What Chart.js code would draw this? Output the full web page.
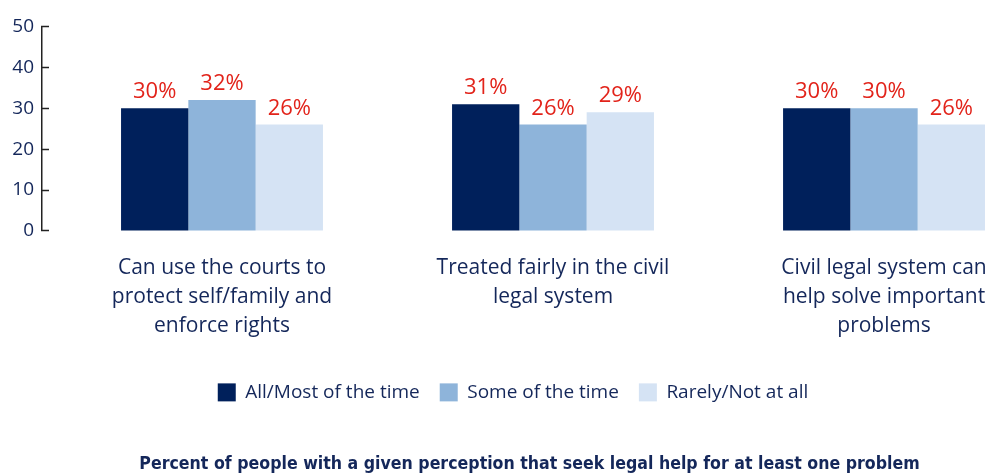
<!DOCTYPE html>
<html>
<head>
<meta charset="utf-8">
<script src="https://cdn.jsdelivr.net/npm/chart.js@4.4.1/dist/chart.umd.min.js"></script>
<style>
  html, body { margin: 0; padding: 0; background: #fff; overflow: hidden; }
  #wrap { width: 991px; height: 475px; position: relative; }
</style>
</head>
<body>
<div id="wrap"><canvas id="chart"></canvas></div>
<script>
const categories = [
  ["Can use the courts to", "protect self/family and", "enforce rights"],
  ["Treated fairly in the civil", "legal system"],
  ["Civil legal system can", "help solve important", "problems"]
];
const seriesNames = ["All/Most of the time", "Some of the time", "Rarely/Not at all"];
const allMost = [30, 31, 30];
const someTime = [32, 26, 30];
const rarely = [26, 29, 26];
const yTicks = [0, 10, 20, 30, 40, 50];
const footTitle = "Percent of people with a given perception that seek legal help for at least one problem";

(() => {
  const navy = "#14275a";
  const colors = ["#00205b", "#8eb4da", "#d5e3f4"];
  const font = "'Open Sans', sans-serif";

  // red percentage above every bar
  const valueLabels = {
    id: "valueLabels",
    afterDatasetsDraw(chart) {
      const c = chart.ctx;
      c.save();
      c.font = "500 22px " + font;
      c.fillStyle = "#e2231a";
      c.textAlign = "center";
      c.textBaseline = "alphabetic";
      chart.data.datasets.forEach((ds, i) => {
        chart.getDatasetMeta(i).data.forEach((bar, j) => {
          c.fillText(ds.data[j] + "%", bar.x, bar.y - 10);
        });
      });
      c.restore();
    }
  };

  const series = [allMost, someTime, rarely];

  new Chart(document.getElementById("chart"), {
    type: "bar",
    plugins: [valueLabels],
    data: {
      labels: categories,
      datasets: series.map((d, i) => ({
        label: seriesNames[i],
        data: d,
        backgroundColor: colors[i],
        borderWidth: 0,
        categoryPercentage: 0.61,
        barPercentage: 1.0
      }))
    },
    options: {
      responsive: true,
      maintainAspectRatio: false,
      animation: false,
      // right side runs past the canvas so legend and title sit right of centre
      layout: { padding: { top: 25, left: 8, right: -27, bottom: 0 } },
      scales: {
        x: {
          grid: { display: false },
          border: { display: false },
          // categories sit closer together than the plot width would give
          afterBuildTicks: (axis) => {
            axis._startValue = -0.5438;
            axis._valueRange = 2.867;
          },
          afterFit: (axis) => {
            axis.paddingLeft = 0;
            axis.paddingRight = 0;
            axis.height += 7;
          },
          ticks: {
            color: navy,
            font: { family: font, size: 21, weight: 500, lineHeight: 1.38 },
            padding: 15,
            maxRotation: 0,
            autoSkip: false
          }
        },
        y: {
          min: 0,
          max: 50,
          afterBuildTicks: (axis) => {
            axis.ticks = yTicks.map((v) => ({ value: v }));
          },
          afterFit: (axis) => {
            axis.width = 34;
          },
          border: { color: "#222", width: 1.5 },
          grid: {
            drawOnChartArea: false,
            tickLength: -7,
            tickColor: "#222",
            tickWidth: 1.5
          },
          ticks: {
            color: navy,
            font: { family: font, size: 19, weight: 500 },
            padding: 15
          }
        }
      },
      plugins: {
        tooltip: { enabled: false },
        legend: {
          position: "bottom",
          labels: {
            boxWidth: 18,
            boxHeight: 18,
            padding: 20,
            color: navy,
            font: { family: font, size: 19, weight: 500 }
          }
        },
        title: {
          display: true,
          position: "bottom",
          text: "\u00a0\u00a0\u00a0\u00a0\u00a0\u00a0" + footTitle,
          color: navy,
          font: { family: "'Liberation Sans Narrow', 'DejaVu Sans Condensed', sans-serif", size: 17.6, weight: "bold" },
          padding: { top: 42, bottom: 0 }
        }
      }
    }
  });
})();
</script>
</body>
</html>
